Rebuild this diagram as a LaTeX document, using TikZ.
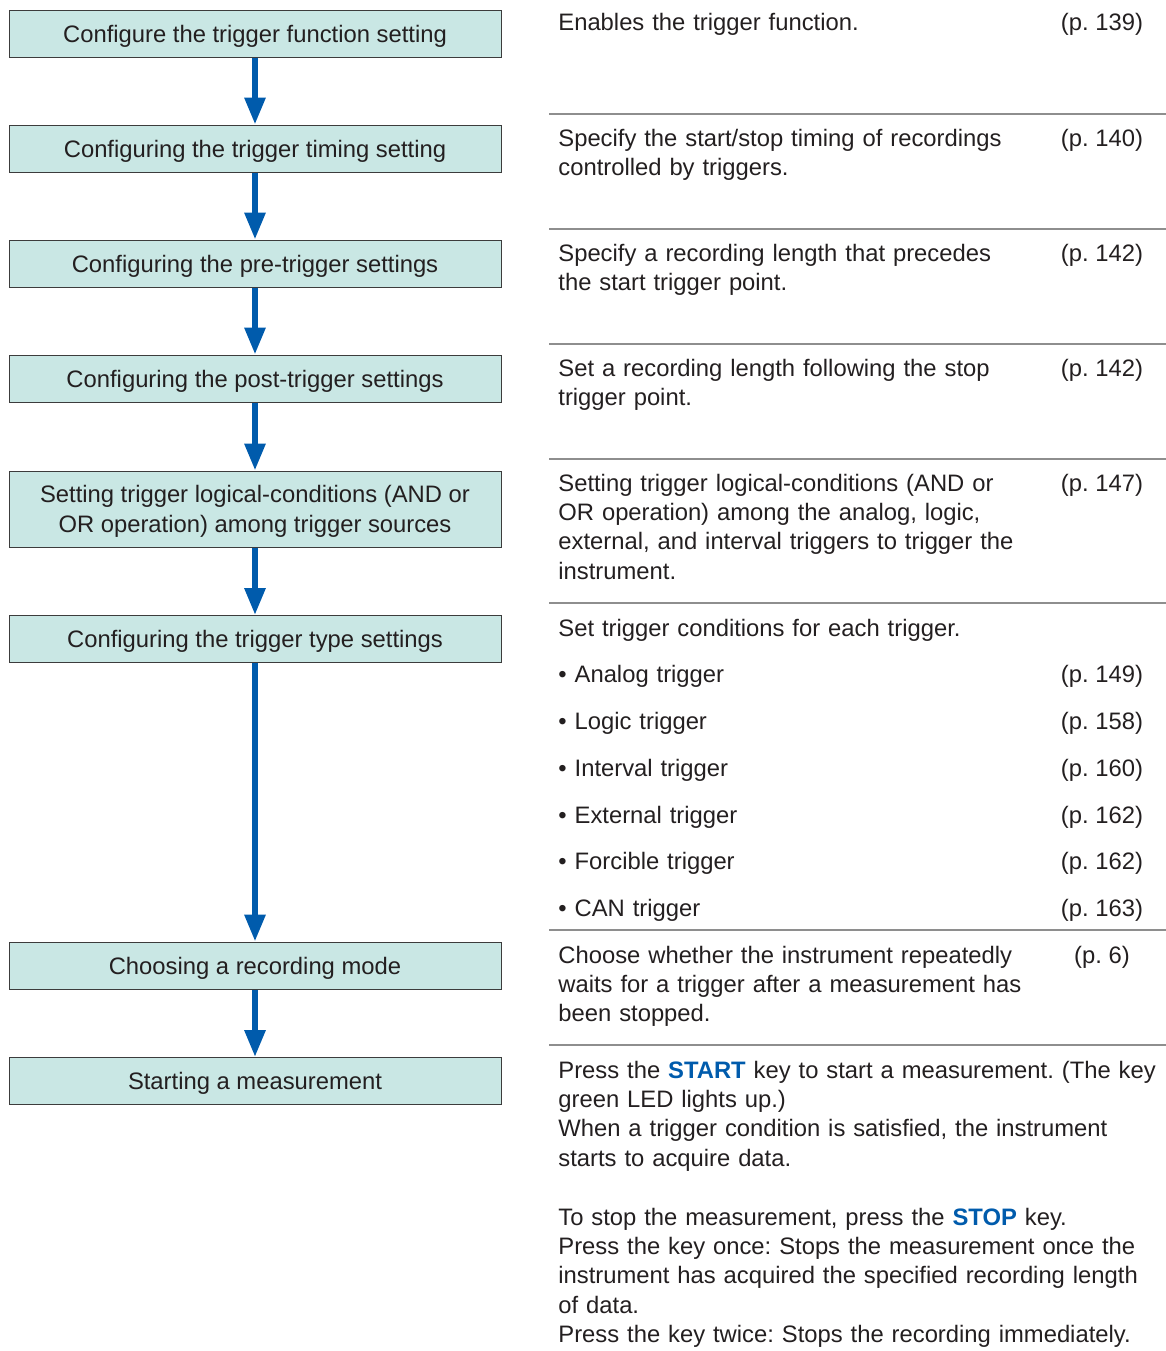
\documentclass[tikz,border=0pt]{standalone}
\usepackage{fontspec}
\setmainfont{Liberation Sans}
\usepackage{tikz}
\usetikzlibrary{arrows.meta}
\frenchspacing
\definecolor{FigureInk}{HTML}{231F20}
\definecolor{BoxFill}{HTML}{C9E7E4}
\definecolor{BoxEdge}{HTML}{3C3C3C}
\definecolor{FlowBlue}{HTML}{005BAC}
\definecolor{RuleGray}{HTML}{8E8E8E}
\newcommand{\KeyName}[1]{\textbf{\color{FlowBlue}#1}}
\tikzset{
  figure/.style={x=0.5pt,y=-0.5pt,text=FigureInk,font=\fontsize{11.9}{14.7}\selectfont},
  stepbox/.style={draw=BoxEdge,line width=0.5pt,fill=BoxFill,minimum width=246pt,
    minimum height=23.5pt,inner sep=0pt,align=center,text height=8.6pt,text depth=0pt},
  flow/.style={-{Triangle[length=13.5pt,width=10pt]},line width=3pt,draw=FlowBlue},
  note/.style={anchor=base west,inner sep=0pt,text width=310pt,align=left},
  pageref/.style={anchor=base,inner sep=0pt},
  divider/.style={draw=RuleGray,line width=0.75pt},
}

\begin{document}
\begin{tikzpicture}[figure]
  \useasboundingbox (0,0) rectangle (1166,1351);

  \node[stepbox] (func) at (255,33.5) {Configure the trigger function setting};
  \node[stepbox] (timing) at (255,148.5) {Configuring the trigger timing setting};
  \node[stepbox] (pre) at (255,263.5) {Configuring the pre-trigger settings};
  \node[stepbox] (post) at (255,378.5) {Configuring the post-trigger settings};
  \node[stepbox,minimum height=38pt,text height=23.3pt] (logic) at (255,509)
    {Setting trigger logical-conditions (AND or\\OR operation) among trigger sources};
  \node[stepbox] (type) at (255,639) {Configuring the trigger type settings};
  \node[stepbox] (mode) at (255,965.5) {Choosing a recording mode};
  \node[stepbox] (start) at (255,1081) {Starting a measurement};

  \draw[flow] (func.south) -- (timing.north);
  \draw[flow] (timing.south) -- (pre.north);
  \draw[flow] (pre.south) -- (post.north);
  \draw[flow] (post.south) -- (logic.north);
  \draw[flow] (logic.south) -- (type.north);
  \draw[flow] (type.south) -- (mode.north);
  \draw[flow] (mode.south) -- (start.north);

  \draw[divider] (549,114) -- (1166,114);
  \draw[divider] (549,229) -- (1166,229);
  \draw[divider] (549,344) -- (1166,344);
  \draw[divider] (549,459) -- (1166,459);
  \draw[divider] (549,603) -- (1166,603);
  \draw[divider] (549,930) -- (1166,930);
  \draw[divider] (549,1045) -- (1166,1045);

  \node[note] (funcnote) at (558,30) {Enables the trigger function.};
  \node[pageref] (funcref) at (1102,30) {(p. 139)};
  \node[note] (timingnote) at (558,146)
    {Specify the start/stop timing of recordings\\controlled by triggers.};
  \node[pageref] (timingref) at (1102,146) {(p. 140)};
  \node[note] (prenote) at (558,261)
    {Specify a recording length that precedes\\the start trigger point.};
  \node[pageref] (preref) at (1102,261) {(p. 142)};
  \node[note] (postnote) at (558,376)
    {Set a recording length following the stop\\trigger point.};
  \node[pageref] (postref) at (1102,376) {(p. 142)};
  \node[note] (logicnote) at (558,491)
    {Setting trigger logical-conditions (AND or\\OR operation) among the analog, logic,\\
     external, and interval triggers to trigger the\\instrument.};
  \node[pageref] (logicref) at (1102,491) {(p. 147)};

  \node[note] (typenote) at (558,636) {Set trigger conditions for each trigger.};
  \node[note] (analog) at (558,682) {• Analog trigger};
  \node[pageref] (analogref) at (1102,682) {(p. 149)};
  \node[note] (logictrig) at (558,729) {• Logic trigger};
  \node[pageref] (logictrigref) at (1102,729) {(p. 158)};
  \node[note] (interval) at (558,776) {• Interval trigger};
  \node[pageref] (intervalref) at (1102,776) {(p. 160)};
  \node[note] (external) at (558,823) {• External trigger};
  \node[pageref] (externalref) at (1102,823) {(p. 162)};
  \node[note] (forcible) at (558,869) {• Forcible trigger};
  \node[pageref] (forcibleref) at (1102,869) {(p. 162)};
  \node[note] (can) at (558,916) {• CAN trigger};
  \node[pageref] (canref) at (1102,916) {(p. 163)};

  \node[note] (modenote) at (558,963)
    {Choose whether the instrument repeatedly\\waits for a trigger after a measurement has\\been stopped.};
  \node[pageref] (moderef) at (1102,963) {(p. 6)};

  \node[note] (startnote) at (558,1078)
    {Press the \KeyName{START} key to start a measurement. (The key\\green LED lights up.)\\
     When a trigger condition is satisfied, the instrument\\starts to acquire data.\\[14.7pt]
     To stop the measurement, press the \KeyName{STOP} key.\\
     Press the key once: Stops the measurement once the\\
     instrument has acquired the specified recording length\\of data.\\
     Press the key twice: Stops the recording immediately.};
\end{tikzpicture}
\end{document}
